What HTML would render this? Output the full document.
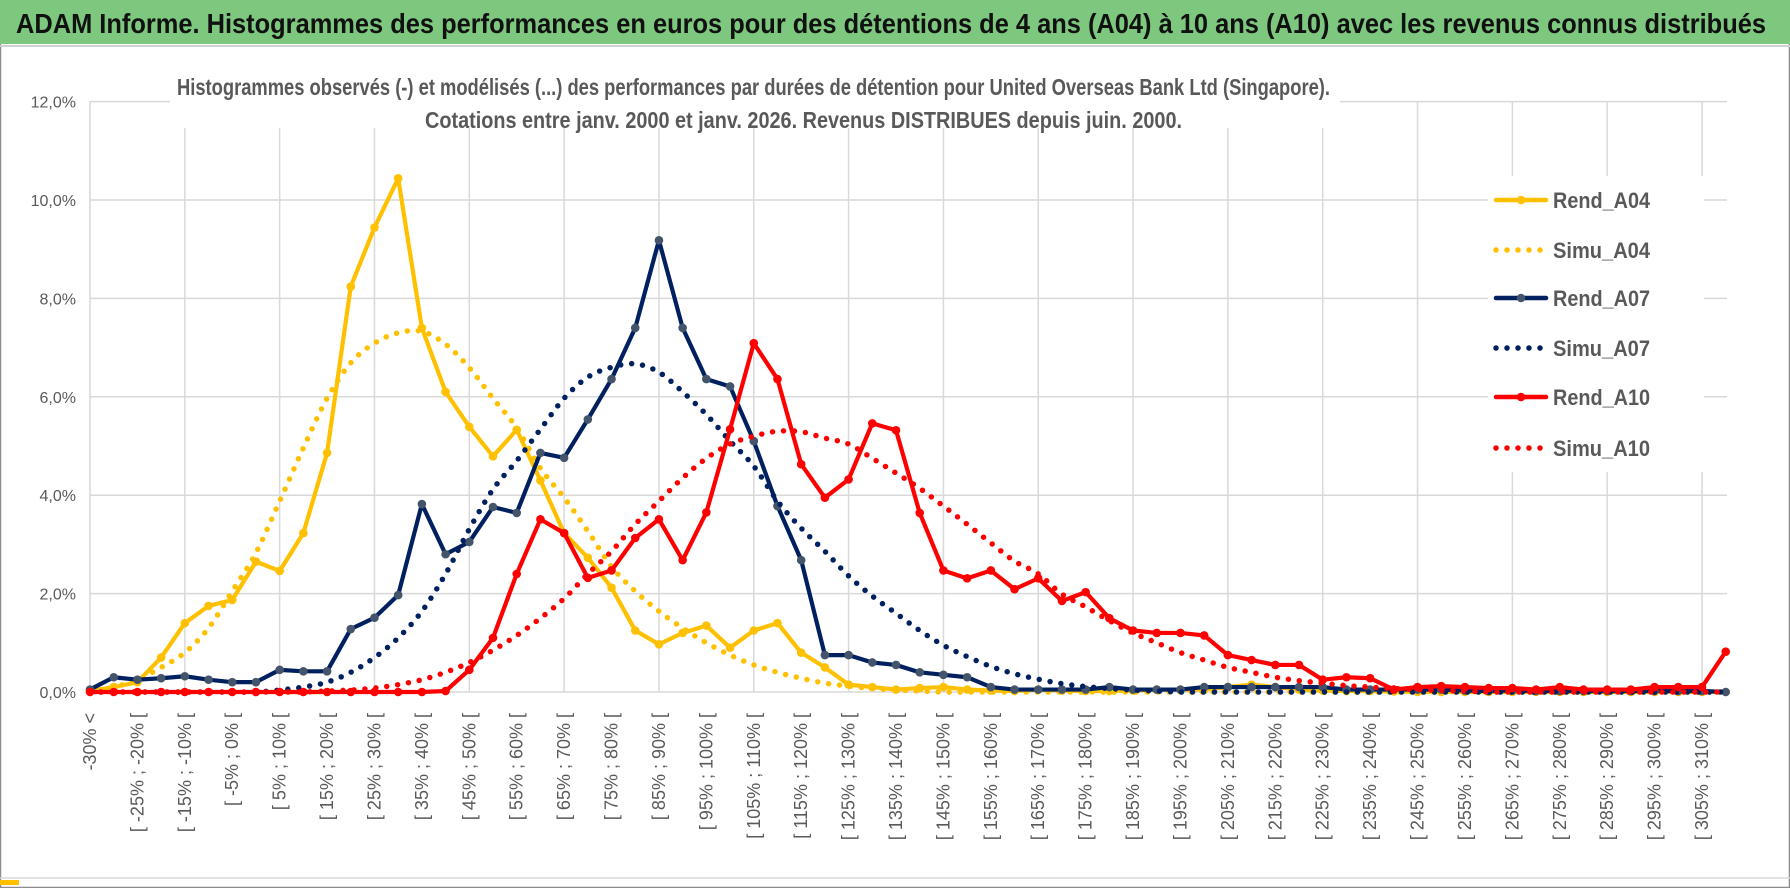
<!DOCTYPE html>
<html><head><meta charset="utf-8">
<style>
html,body{margin:0;padding:0;background:#fff;}
svg{display:block;font-family:"Liberation Sans",sans-serif;}
</style></head>
<body>
<svg id="chart" width="1790" height="888" viewBox="0 0 1790 888" xmlns="http://www.w3.org/2000/svg">
  <rect x="0" y="0" width="1790" height="888" fill="#fff"/>
  <rect x="0.5" y="0.5" width="1789" height="887" fill="none" stroke="#8c8c8c" stroke-width="1.5"/>
  <rect x="0" y="0" width="1790" height="44" fill="#7ec77e"/>
  <line x1="0" y1="46" x2="1790" y2="46" stroke="#d0d0d0" stroke-width="2"/>
  <text x="16" y="33" font-size="28" font-weight="bold" fill="#111" textLength="1750" lengthAdjust="spacingAndGlyphs">ADAM Informe. Histogrammes des performances en euros pour des détentions de 4 ans (A04) à 10 ans (A10) avec les revenus connus distribués</text>
  <line x1="0" y1="878" x2="1790" y2="878" stroke="#d9d9d9" stroke-width="1.5"/>
  <rect x="0" y="880" width="19" height="5" fill="#ffc000"/>
  <g id="grid"></g>
  <g id="ylabels"></g>
  <g id="xlabels"></g>
  <rect x="170" y="56" width="1170" height="72" fill="#fff"/>
  <text x="177" y="95" font-size="23" font-weight="bold" fill="#595959" textLength="1153" lengthAdjust="spacingAndGlyphs">Histogrammes observés (-) et modélisés (...) des performances par durées de détention pour United Overseas Bank Ltd (Singapore).</text>
  <text x="425" y="128" font-size="23" font-weight="bold" fill="#595959" textLength="757" lengthAdjust="spacingAndGlyphs">Cotations entre janv. 2000 et janv. 2026. Revenus DISTRIBUES depuis juin. 2000.</text>
  <g id="series"></g>
  <rect x="1488" y="176" width="216" height="296" fill="#fff"/>
  <g id="legend"></g>
</svg>
<script>
const cats = [];
for (let k = 0; k < 70; k++) {
  cats.push(k === 0 ? "-30% <" : "[ " + (-35 + 5 * k) + "% ; " + (-30 + 5 * k) + "% [");
}
const yTicks = [0, 2, 4, 6, 8, 10, 12];
const yTickLabels = ["0,0%", "2,0%", "4,0%", "6,0%", "8,0%", "10,0%", "12,0%"];
const seriesNames = ["Rend_A04", "Simu_A04", "Rend_A07", "Simu_A07", "Rend_A10", "Simu_A10"];
const rendA04 = [0.02,0.1,0.2,0.7,1.4,1.75,1.87,2.65,2.46,3.23,4.86,8.24,9.44,10.44,7.40,6.10,5.39,4.79,5.33,4.30,3.23,2.73,2.12,1.25,0.97,1.2,1.35,0.9,1.25,1.4,0.8,0.5,0.15,0.1,0.05,0.08,0.1,0.05,0.03,0.02,0.05,0.03,0.02,0.02,0.03,0.05,0.05,0.05,0.1,0.15,0.1,0.05,0.03,0.02,0.02,0.01,0,0,0,0,0,0,0,0,0,0,0,0,0,0];
const simuA04 = [0,0.1,0.25,0.5,0.8,1.3,2.05,2.83,3.88,4.96,5.97,6.69,7.09,7.3,7.33,7.07,6.59,5.97,5.37,4.55,3.95,3.27,2.55,2.05,1.64,1.3,1.0,0.75,0.55,0.4,0.28,0.18,0.12,0.07,0.04,0.02,0,0,0,0,0,0,0,0,0,0,0,0,0,0,0,0,0,0,0,0,0,0,0,0,0,0,0,0,0,0,0,0,0,0];
const rendA07 = [0.05,0.3,0.25,0.28,0.32,0.25,0.2,0.2,0.45,0.42,0.42,1.28,1.51,1.97,3.82,2.80,3.05,3.76,3.64,4.86,4.76,5.54,6.36,7.40,9.18,7.40,6.36,6.21,5.10,3.78,2.68,0.75,0.75,0.6,0.55,0.4,0.35,0.3,0.1,0.05,0.05,0.05,0.05,0.1,0.05,0.05,0.05,0.1,0.1,0.1,0.1,0.1,0.1,0.05,0.05,0.05,0.05,0.05,0.03,0.02,0.03,0.02,0.02,0.02,0.02,0.02,0.02,0.02,0.02,0];
const simuA07 = [0,0,0,0,0,0,0,0,0.04,0.1,0.2,0.4,0.7,1.1,1.64,2.4,3.31,4.12,4.7,5.34,5.97,6.4,6.6,6.67,6.5,6.1,5.64,5.10,4.59,3.88,3.33,2.86,2.36,1.95,1.6,1.25,0.95,0.72,0.52,0.37,0.26,0.17,0.11,0.07,0.04,0.02,0,0,0,0,0,0,0,0,0,0,0,0,0,0,0,0,0,0,0,0,0,0,0,0];
const rendA10 = [0,0,0,0,0,0,0,0,0,0,0,0,0,0,0,0.02,0.45,1.1,2.40,3.51,3.23,2.32,2.47,3.13,3.51,2.68,3.65,5.34,7.09,6.36,4.63,3.95,4.32,5.46,5.32,3.64,2.47,2.31,2.47,2.09,2.31,1.85,2.03,1.50,1.25,1.2,1.2,1.15,0.75,0.65,0.55,0.55,0.25,0.3,0.28,0.05,0.1,0.12,0.1,0.08,0.08,0.05,0.1,0.05,0.05,0.05,0.1,0.1,0.1,0.82];
const simuA10 = [0,0,0,0,0,0,0,0,0,0,0.02,0.04,0.08,0.15,0.25,0.4,0.6,0.85,1.15,1.5,1.9,2.4,2.86,3.41,3.88,4.35,4.75,5.04,5.2,5.30,5.29,5.16,5.04,4.75,4.45,4.14,3.78,3.41,3.03,2.66,2.4,1.99,1.73,1.45,1.2,1.0,0.8,0.65,0.5,0.4,0.3,0.23,0.18,0.13,0.1,0.07,0.05,0.03,0.02,0,0,0,0,0,0,0,0,0,0,0];

const NS = "http://www.w3.org/2000/svg";
const X0 = 90, STEP = 23.706, Y0 = 692, PER = 49.2;
function xs(i) { return X0 + i * STEP; }
function ys(v) { return Y0 - v * PER; }
function mk(tag, attrs, parent) {
  const e = document.createElementNS(NS, tag);
  for (const a in attrs) e.setAttribute(a, attrs[a]);
  parent.appendChild(e);
  return e;
}
const grid = document.getElementById("grid");
yTicks.forEach(function (t, i) {
  const l = mk("line", {x1: X0, x2: 1727, y1: ys(t), y2: ys(t), stroke: "#d9d9d9", "stroke-width": 1.5}, grid);
  
  
  const tx = mk("text", {x: 76, y: ys(t) + 6, "font-size": 16, fill: "#595959", "text-anchor": "end"}, document.getElementById("ylabels"));
  tx.textContent = yTickLabels[i];
  
  
});
for (let k = 0; k < cats.length; k += 4) {
  const l = mk("line", {x1: xs(k), x2: xs(k), y1: 101, y2: Y0, stroke: "#d9d9d9", "stroke-width": 1.5}, grid);
  
  
}
const xl = document.getElementById("xlabels");
for (let k = 0; k < cats.length; k += 2) {
  const x = xs(k), y = 713;
  const t = mk("text", {x: x, y: y, "font-size": 18, fill: "#595959", "text-anchor": "end",
    transform: "rotate(-90 " + x + " " + y + ")", dy: "6"}, xl);
  t.textContent = cats[k];
  
  
}
function smoothPath(vals) {
  const p = vals.map(function (v, i) { return [xs(i), ys(v)]; });
  let d = "M" + p[0][0] + "," + p[0][1];
  for (let i = 0; i < p.length - 1; i++) {
    const p0 = p[Math.max(0, i - 1)], p1 = p[i], p2 = p[i + 1], p3 = p[Math.min(p.length - 1, i + 2)];
    const c1 = [p1[0] + (p2[0] - p0[0]) / 6, p1[1] + (p2[1] - p0[1]) / 6];
    const c2 = [p2[0] - (p3[0] - p1[0]) / 6, p2[1] - (p3[1] - p1[1]) / 6];
    d += " C" + c1[0] + "," + c1[1] + " " + c2[0] + "," + c2[1] + " " + p2[0] + "," + p2[1];
  }
  return d;
}
const sg = document.getElementById("series");
function drawRend(vals, color, mcolor, name) {
  const d = vals.map(function (v, i) { return (i ? "L" : "M") + xs(i) + "," + ys(v); }).join(" ");
  const p = mk("path", {d: d, fill: "none", stroke: color, "stroke-width": 4.2, "stroke-linejoin": "round"}, sg);
  
  
  vals.forEach(function (v, i) {
    const c = mk("circle", {cx: xs(i), cy: ys(v), r: 4.3, fill: mcolor}, sg);
    
    
  });
}
function drawSimu(vals, color, name) {
  const p = mk("path", {d: smoothPath(vals), fill: "none", stroke: color, "stroke-width": 5.5, "stroke-linecap": "round", "stroke-dasharray": "0 11"}, sg);
  
  
}
drawRend(rendA04, "#ffc000", "#ffc000", "rend-a04");
drawSimu(simuA04, "#ffc000", "simu-a04");
drawRend(rendA07, "#002060", "#44546a", "rend-a07");
drawSimu(simuA07, "#002060", "simu-a07");
drawRend(rendA10, "#ff0000", "#ff0000", "rend-a10");
drawSimu(simuA10, "#ff0000", "simu-a10");

const lg = document.getElementById("legend");
const legColors = ["#ffc000", "#ffc000", "#002060", "#002060", "#ff0000", "#ff0000"];
const legMarker = ["#ffc000", null, "#44546a", null, "#ff0000", null];
const legY = [200, 250, 298, 348, 397, 448];
seriesNames.forEach(function (n, i) {
  const y = legY[i];
  if (legMarker[i]) {
    const l = mk("line", {x1: 1496, x2: 1546, y1: y, y2: y, stroke: legColors[i], "stroke-width": 4.5, "stroke-linecap": "round"}, lg);
    
    
    const c = mk("circle", {cx: 1521, cy: y, r: 4.3, fill: legMarker[i]}, lg);
    
    
  } else {
    const l = mk("line", {x1: 1496, x2: 1546, y1: y, y2: y, stroke: legColors[i], "stroke-width": 5.5, "stroke-linecap": "round", "stroke-dasharray": "0 11"}, lg);
    
    
  }
  const t = mk("text", {x: 1553, y: y + 8, "font-size": 22, "font-weight": "bold", fill: "#595959", textLength: 97, lengthAdjust: "spacingAndGlyphs"}, lg);
  t.textContent = n;
  
  
});
</script>
</body></html>
